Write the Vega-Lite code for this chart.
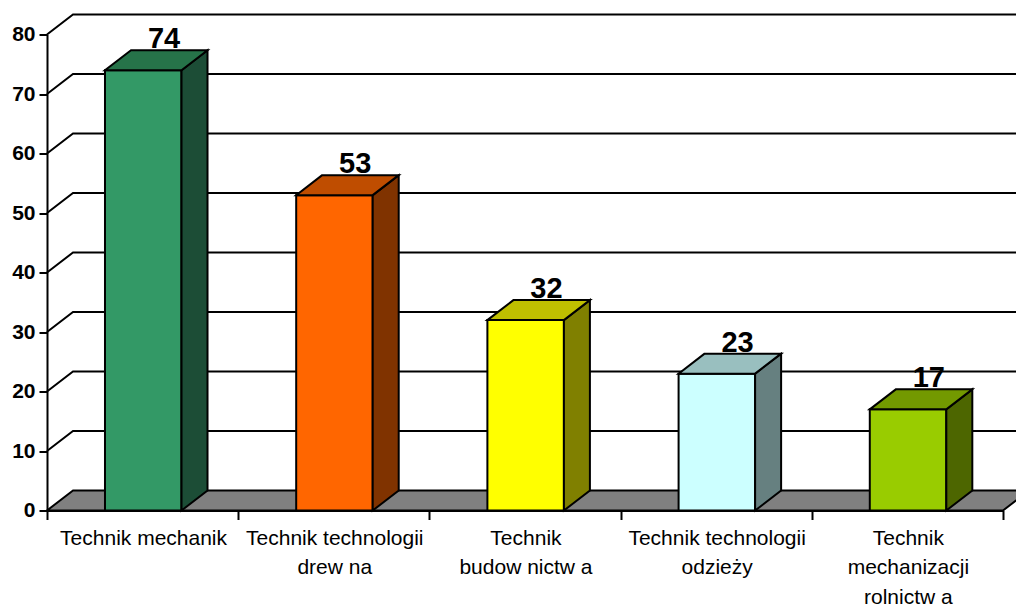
{"$schema":"https://vega.github.io/schema/vega-lite/v6.json","width":956,"height":476,"autosize":"none","padding":{"left":47,"top":34.5,"right":13,"bottom":94.5},"background":"white","config":{"view":{"stroke":null},"text":{"font":"Liberation Sans"}},
"data":{"values":[{"category":"Technik mechanik","value":74,"label":"Technik mechanik"},{"category":"Technik technologii drewna","value":53,"label":"Technik technologii\ndrew na"},{"category":"Technik budownictwa","value":32,"label":"Technik\nbudow nictw a"},{"category":"Technik technologii odzieży","value":23,"label":"Technik technologii\nodzieży"},{"category":"Technik mechanizacji rolnictwa","value":17,"label":"Technik\nmechanizacji\nrolnictw a"}]},
"transform":[{"window":[{"op":"row_number","as":"pos"}]},{"calculate":"datum.pos-1+0.3033","as":"xl"},{"calculate":"datum.pos-1+0.7035","as":"xr"}],
"layer":[
{"data":{"values":[{"floor":0}]},"transform":[{"calculate":"[0,1]","as":"t"},{"flatten":["t"]},{"calculate":"0.136*datum.t","as":"fx"},{"calculate":"5+0.136*datum.t","as":"fx2"},{"calculate":"3.36*datum.t","as":"fy"}],"mark":{"type":"area","orient":"horizontal","fill":"#808080","stroke":"black","strokeWidth":2},"encoding":{"y":{"field":"fy","type":"quantitative","scale":{"domain":[0,80],"nice":false},"axis":{"title":null,"values":[0,10,20,30,40,50,60,70,80],"domainColor":"black","domainWidth":2,"tickColor":"black","tickWidth":2,"tickSize":8,"labelFont":"Liberation Sans","labelFontWeight":"bold","labelFontSize":21,"labelColor":"black","labelPadding":4,"grid":false}},"x":{"field":"fx","type":"quantitative","scale":{"domain":[0,5],"nice":false},"axis":{"title":null,"values":[0,1,2,3,4,5],"labels":false,"domainColor":"black","domainWidth":2,"tickColor":"black","tickWidth":2,"tickSize":9,"grid":false}},"x2":{"field":"fx2"}}},
{"data":{"values":[{"gridValue":10},{"gridValue":20},{"gridValue":30},{"gridValue":40},{"gridValue":50},{"gridValue":60},{"gridValue":70},{"gridValue":80}]},"transform":[{"calculate":"[0,0.136,5.136]","as":"gx"},{"calculate":"[0,3.36,3.36]","as":"gd"},{"flatten":["gx","gd"]},{"calculate":"datum.gridValue+datum.gd","as":"gy"}],"mark":{"type":"line","color":"black","strokeWidth":2},"encoding":{"x":{"field":"gx","type":"quantitative"},"y":{"field":"gy","type":"quantitative"},"detail":{"field":"gridValue"}}},
{"transform":[{"calculate":"datum.pos-1+0.612","as":"tx"},{"calculate":"datum.value+3.7","as":"ty"}],"mark":{"type":"text","font":"Liberation Sans","fontWeight":"bold","fontSize":29,"color":"black","baseline":"alphabetic","align":"center"},"encoding":{"x":{"field":"tx","type":"quantitative"},"y":{"field":"ty","type":"quantitative"},"text":{"field":"value","type":"quantitative"}}},
{"transform":[{"calculate":"datum.pos-1+0.505","as":"tx"},{"calculate":"0","as":"ty"}],"mark":{"type":"text","font":"Liberation Sans","fontSize":21,"color":"black","baseline":"alphabetic","align":"center","lineBreak":"\n","lineHeight":29.5,"yOffset":34},"encoding":{"x":{"field":"tx","type":"quantitative"},"y":{"field":"ty","type":"quantitative"},"text":{"field":"label","type":"nominal"}}},
{"mark":{"type":"rect","stroke":"black","strokeWidth":2},"encoding":{"x":{"field":"xl","type":"quantitative"},"x2":{"field":"xr"},"y":{"field":"value","type":"quantitative"},"y2":{"datum":0},"color":{"field":"category","type":"nominal","legend":null,"sort":null,"scale":{"domain":["Technik mechanik","Technik technologii drewna","Technik budownictwa","Technik technologii odzieży","Technik mechanizacji rolnictwa"],"range":["#339966","#ff6600","#ffff00","#ccffff","#99cc00"]}}}},
{"transform":[{"calculate":"[0,1]","as":"t"},{"flatten":["t"]},{"calculate":"datum.xr+0.136*datum.t","as":"sx"},{"calculate":"3.36*datum.t","as":"sy"},{"calculate":"datum.value+3.36*datum.t","as":"sy2"}],"mark":{"type":"area","stroke":"black","strokeWidth":2},"encoding":{"x":{"field":"sx","type":"quantitative"},"y":{"field":"sy","type":"quantitative"},"y2":{"field":"sy2"},"fill":{"field":"category","type":"nominal","legend":null,"scale":{"domain":["Technik mechanik","Technik technologii drewna","Technik budownictwa","Technik technologii odzieży","Technik mechanizacji rolnictwa"],"range":["#1c4d36","#803300","#808000","#668080","#4d6600"]}}}},
{"transform":[{"calculate":"[0,1]","as":"t"},{"flatten":["t"]},{"calculate":"datum.xl+0.136*datum.t","as":"tx1"},{"calculate":"datum.xr+0.136*datum.t","as":"tx2"},{"calculate":"datum.value+3.36*datum.t","as":"ty"}],"mark":{"type":"area","orient":"horizontal","stroke":"black","strokeWidth":2},"encoding":{"y":{"field":"ty","type":"quantitative"},"x":{"field":"tx1","type":"quantitative"},"x2":{"field":"tx2"},"detail":{"field":"category"},"fill":{"field":"category","type":"nominal","legend":null,"scale":{"domain":["Technik mechanik","Technik technologii drewna","Technik budownictwa","Technik technologii odzieży","Technik mechanizacji rolnictwa"],"range":["#267349","#bf4d00","#bfbf00","#99bfbf","#739900"]}}}}
],
"resolve":{"scale":{"fill":"independent"}}}
